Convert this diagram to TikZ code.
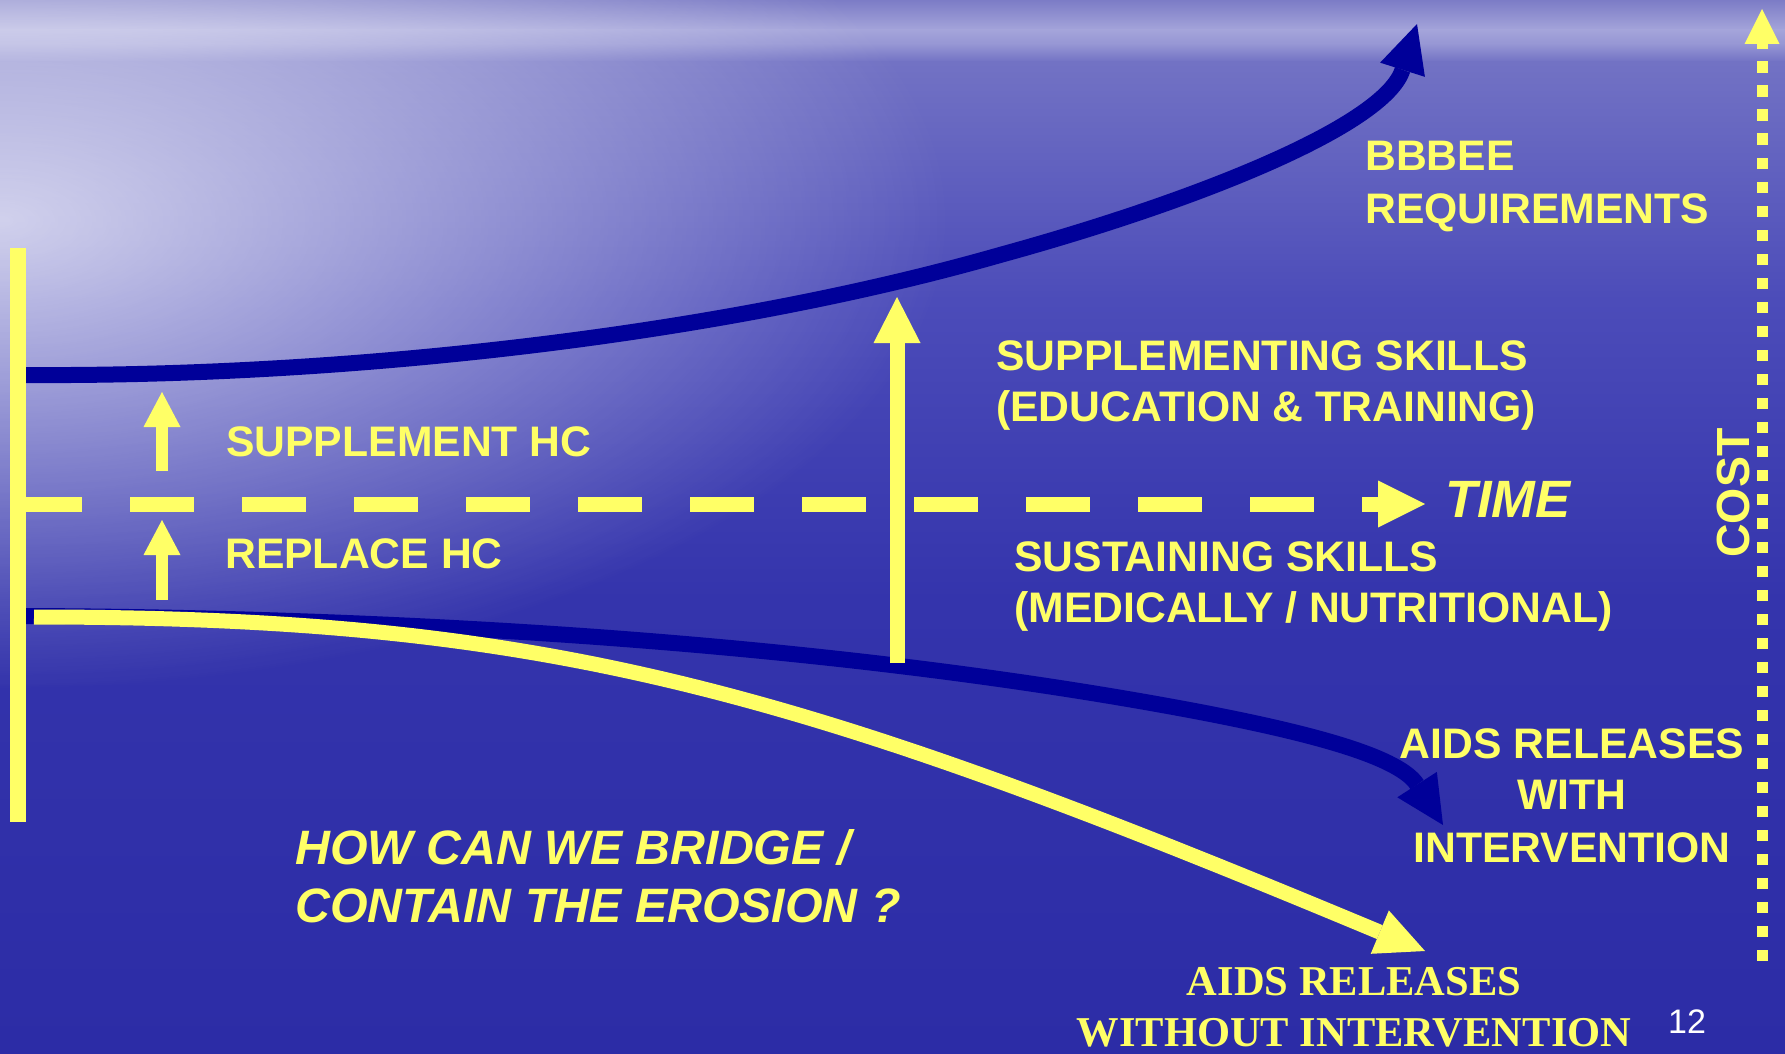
\documentclass[tikz,border=0pt]{standalone}
\usepackage{fontspec}
\setmainfont{Liberation Sans}
\newfontfamily\serifb{Liberation Serif}
\usetikzlibrary{arrows.meta,fadings}
\definecolor{hcy}{HTML}{FFFF66}
\definecolor{hcb}{HTML}{000099}
\definecolor{bg0}{HTML}{7C7CC6}
\definecolor{bg1}{HTML}{A4A4DA}
\definecolor{bg2}{HTML}{9696D4}
\definecolor{bg3}{HTML}{7272C4}
\definecolor{bg4}{HTML}{4C4CB9}
\definecolor{bg5}{HTML}{3434AC}
\definecolor{bg6}{HTML}{2C2CA6}
\tikzfading[name=glowfade, inner color=transparent!0, outer color=transparent!100]
\begin{document}
\begin{tikzpicture}[x=1pt,y=-1pt,
  lbl/.style={text=hcy, font=\fontsize{42.7}{50}\selectfont\bfseries, inner sep=0pt, anchor=base west},
  clbl/.style={lbl, anchor=base},
  qlbl/.style={lbl, font=\fontsize{48.3}{56}\selectfont\bfseries\itshape},
  tlbl/.style={lbl, font=\fontsize{52.5}{60}\selectfont\bfseries\itshape},
  slbl/.style={text=hcy, font=\fontsize{42.5}{50}\selectfont\serifb\bfseries, inner sep=0pt, anchor=base},
  costlbl/.style={text=hcy, font=\fontsize{46.5}{50}\selectfont\bfseries, inner sep=0pt, anchor=base, rotate=90},
  numlbl/.style={text=white, font=\fontsize{34}{40}\selectfont, inner sep=0pt, anchor=base west},
  bluecurve/.style={draw=hcb, line width=16pt, -{Triangle[length=48pt,width=47pt,line width=0pt]}},
  yelcurve/.style={draw=hcy, line width=15pt, -{Triangle[length=49pt,width=47pt,line width=0pt]}},
  bigup/.style={draw=hcy, line width=15pt, -{Triangle[length=46pt,width=47pt,line width=0pt]}},
  smallup/.style={draw=hcy, line width=12pt, -{Triangle[length=35pt,width=37pt,line width=0pt]}},
  timeaxis/.style={draw=hcy, line width=15pt, dash pattern=on 64pt off 48pt, -{Triangle[length=47pt,width=47pt,line width=0pt]}},
  costaxis/.style={draw=hcy, line width=11pt, dash pattern=on 11.5pt off 12.5pt, -{Triangle[length=35pt,width=35pt,line width=0pt]}},
  bar/.style={draw=hcy, line width=16pt}
]
\useasboundingbox (0,0) rectangle (1785,1054);
% background
\shade[top color=bg0, bottom color=bg1] (0,0) rectangle (1785,30);
\shade[top color=bg1, bottom color=bg2] (0,30) rectangle (1785,44);
\shade[top color=bg2, bottom color=bg3] (0,44) rectangle (1785,62);
\shade[top color=bg3, bottom color=bg4] (0,62) rectangle (1785,300);
\shade[top color=bg4, bottom color=bg5] (0,300) rectangle (1785,600);
\shade[top color=bg5, bottom color=bg6] (0,600) rectangle (1785,1054);
\fill[white, opacity=0.72, path fading=glowfade] (0,220) ellipse [x radius=950, y radius=470];

% coordinates
\coordinate (tS) at (26,375);
\coordinate (tM) at (1000,255);
\coordinate (tE) at (1417,24);
\coordinate (bS) at (26,616);
\coordinate (bM) at (1200,712);
\coordinate (bE) at (1443,825);
\coordinate (yS) at (34,617);
\coordinate (yE) at (1425,951);
\coordinate (mB) at (897,663);
\coordinate (mT) at (897,297);
\coordinate (s1B) at (162,471);
\coordinate (s1T) at (162,392);
\coordinate (s2B) at (162,600);
\coordinate (s2T) at (162,520);
\coordinate (lT) at (18,248);
\coordinate (lB) at (18,822);
\coordinate (tmS) at (18,504);
\coordinate (tmE) at (1425,504);
\coordinate (cB) at (1762,961);
\coordinate (cT) at (1762,9);

% curves
\draw[bluecurve] (tS) .. controls (350,377) and (720,335) .. (tM) .. controls (1200,200) and (1385,125) .. (tE);
\draw[bluecurve] (bS) .. controls (500,618) and (900,655) .. (bM) .. controls (1320,735) and (1400,758) .. (bE);
\draw[yelcurve] (yS) .. controls (550,617) and (800,690) .. (yE);

% axes and arrows
\draw[bar] (lT) -- (lB);
\draw[timeaxis] (tmS) -- (tmE);
\draw[bigup] (mB) -- (mT);
\draw[smallup] (s1B) -- (s1T);
\draw[smallup] (s2B) -- (s2T);
\draw[costaxis] (cB) -- (cT);

% labels
\node[lbl] (bbbee) at (1365,171) {BBBEE};
\node[lbl] (req) at (1365,223) {REQUIREMENTS};
\node[lbl] (sup1) at (996,370) {SUPPLEMENTING SKILLS};
\node[lbl] (sup2) at (996,421) {(EDUCATION \& TRAINING)};
\node[tlbl] (time) at (1445,517) {TIME};
\node[lbl] (shc) at (226,456) {SUPPLEMENT HC};
\node[lbl] (rhc) at (225,568) {REPLACE HC};
\node[lbl] (sus1) at (1014,571) {SUSTAINING SKILLS};
\node[lbl] (sus2) at (1014,622) {(MEDICALLY / NUTRITIONAL)};
\node[clbl] (aw1) at (1572,758) {AIDS RELEASES};
\node[clbl] (aw2) at (1572,809) {WITH};
\node[clbl] (aw3) at (1572,862) {INTERVENTION};
\node[qlbl] (q1) at (295,864) {HOW CAN WE BRIDGE /};
\node[qlbl] (q2) at (295,922) {CONTAIN THE EROSION ?};
\node[slbl] (an1) at (1354,995) {AIDS RELEASES};
\node[slbl] (an2) at (1354,1046) {WITHOUT INTERVENTION};
\node[costlbl] (cost) at (1749,493) {COST};
\node[numlbl] (num) at (1668,1033) {12};
\end{tikzpicture}
\end{document}
